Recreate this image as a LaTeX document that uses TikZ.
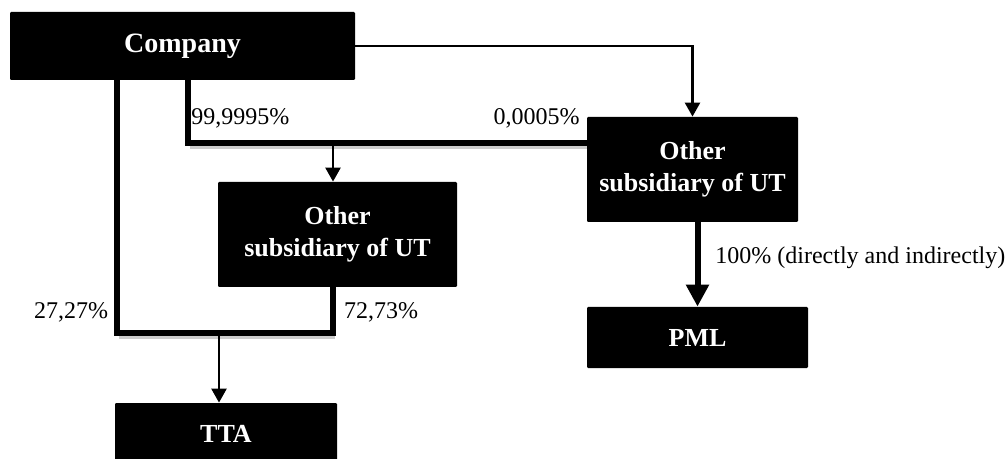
\documentclass[tikz,border=0pt]{standalone}
\usepackage{fontspec}
\setmainfont{Liberation Serif}
\usetikzlibrary{arrows.meta}

\begin{document}
\begin{tikzpicture}[x=0.5pt,y=-0.5pt,
  entity/.style={fill=black,text=white,font=\bfseries\fontsize{13}{16}\selectfont,
    rounded corners=0.6pt,align=center,inner sep=0pt},
  share/.style={font=\fontsize{12}{14}\selectfont,inner sep=0pt},
  link/.style={line width=1.25pt},
  holding/.style={line width=3pt},
  backshade/.style={line width=3pt,black!20},
  >={Triangle[width=7.5pt,length=7pt]}]
\clip (0,0) rectangle (1005,459);
% owners and subsidiaries
\node[entity,minimum width=172.5pt,minimum height=34pt,
  font=\bfseries\fontsize{14}{16}\selectfont] (company) at (182.5,46) {Company};
\node[entity,minimum width=105.5pt,minimum height=52.5pt] (subB) at (692.5,169.5) {Other\\subsidiary of UT};
\node[entity,minimum width=119.5pt,minimum height=52.5pt] (subA) at (337.5,234.5) {Other\\subsidiary of UT};
\node[entity,minimum width=110.5pt,minimum height=30.5pt] (pml) at (697.5,337.5) {PML};
\node[entity,minimum width=111pt,minimum height=30.5pt] (tta) at (226,433.5) {TTA};
\coordinate (split) at (188,143);
\coordinate (join) at (117,333);
\coordinate (fromA) at (333,287);
% holdings
\draw[backshade] ([shift={(2,3)}]split) -- ([shift={(0,3)}]split -| subB.west);
\draw[backshade] ([shift={(2,3)}]join) -- ([shift={(2,3)}]join -| fromA);
\draw[link,->] (company.east) -| (subB.north);
\draw[holding] (company.south -| split) -- (split) -- (split -| subB.west);
\draw[link,->] (split -| fromA) -- (subA.north -| fromA);
\draw[holding] (company.south -| join) -- (join) -- (join -| fromA) -- (fromA);
\draw[link,->] ([xshift=-3.5pt]join -| tta.north) -- ([xshift=-3.5pt]tta.north);
\draw[holding,-{Triangle[width=11pt,length=11pt]}] (pml.north |- subB.south) -- (pml.north);
% shares
\node[share,anchor=west] (pA) at (191,118) {99,9995\%};
\node[share,anchor=east] (pB) at (580,118) {0,0005\%};
\node[share] (pC) at (71,312) {27,27\%};
\node[share] (pD) at (381,312) {72,73\%};
\node[share,anchor=west] (pE) at (715,258) {100\% (directly and indirectly)};
\end{tikzpicture}
\end{document}
